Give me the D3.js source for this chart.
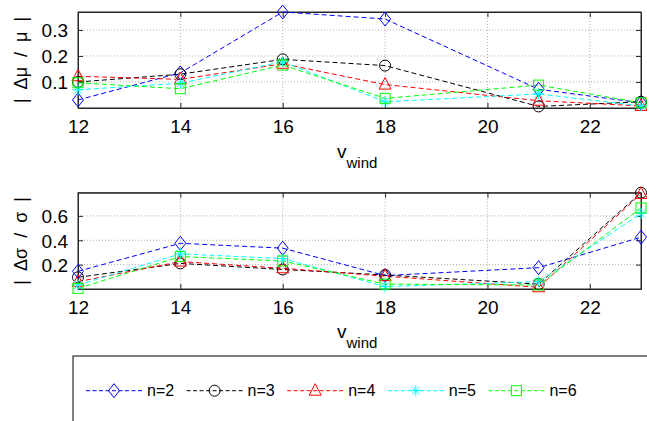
<!DOCTYPE html>
<html><head><meta charset="utf-8">
<script src="https://cdn.jsdelivr.net/npm/d3@7"></script>
<style>body{margin:0;background:#fff}svg{display:block;font-family:Arial,"Liberation Sans",sans-serif}</style>
</head><body><svg id="c" width="647" height="421"></svg>
<script>
const windSpeeds = [12, 14, 16, 18, 21, 23];
const seriesNames = ["n=2", "n=3", "n=4", "n=5", "n=6"];
const seriesColors = ["#0000ff", "#000000", "#ff0000", "#00ffff", "#00ff00"];
const seriesMarkers = ["diamond", "circle", "triangle", "star", "square"];
// |Δμ/μ|
const muN2 = [0.031, 0.135, 0.369, 0.342, 0.072, 0.020];
const muN3 = [0.100, 0.130, 0.187, 0.163, 0.006, 0.024];
const muN4 = [0.122, 0.110, 0.170, 0.090, 0.028, 0.008];
const muN5 = [0.070, 0.095, 0.178, 0.024, 0.054, 0.008];
const muN6 = [0.097, 0.074, 0.165, 0.037, 0.088, 0.020];
// |Δσ/σ|
const sigN2 = [0.145, 0.375, 0.335, 0.110, 0.175, 0.425];
const sigN3 = [0.096, 0.210, 0.160, 0.115, 0.040, 0.790];
const sigN4 = [0.060, 0.225, 0.170, 0.105, 0.014, 0.780];
const sigN5 = [0.033, 0.288, 0.250, 0.020, 0.060, 0.620];
const sigN6 = [0.005, 0.266, 0.230, 0.040, 0.033, 0.665];
const xTicks = [12, 14, 16, 18, 20, 22];
const muTicks = [0.1, 0.2, 0.3];
const sigTicks = [0.2, 0.4, 0.6];

const svg = d3.select("#c");
const x = d3.scaleLinear().domain([12, 23]).range([78, 641]);

function marker(g, type, color, px, py) {
  const s = 5.5;
  let el;
  if (type === "diamond") {
    el = g.append("path").attr("d", `M${px},${py-7}L${px+5.5},${py}L${px},${py+7}L${px-5.5},${py}Z`);
  } else if (type === "circle") {
    el = g.append("circle").attr("cx", px).attr("cy", py).attr("r", 5.5);
  } else if (type === "triangle") {
    el = g.append("path").attr("d", `M${px},${py-7}L${px+6},${py+4.5}L${px-6},${py+4.5}Z`);
  } else if (type === "square") {
    el = g.append("rect").attr("x", px-5).attr("y", py-5).attr("width", 10).attr("height", 10);
  } else {
    const r = 5.5, d = r*0.707;
    el = g.append("path").attr("d", `M${px-r},${py}H${px+r}M${px},${py-r}V${py+r}M${px-d},${py-d}L${px+d},${py+d}M${px-d},${py+d}L${px+d},${py-d}`);
  }
  el.attr("fill", "none").attr("stroke", color).attr("stroke-width", 1);
}

function panel(top, bottom, ymax, yTicks, data, ylabel, xlabelY) {
  const y = d3.scaleLinear().domain([0, ymax]).range([bottom, top]);
  const g = svg.append("g");
  // grid
  g.selectAll(".gx").data(xTicks.slice(1)).enter().append("line")
    .attr("x1", d => x(d)).attr("x2", d => x(d)).attr("y1", top).attr("y2", bottom)
    .attr("stroke", "#b0b0b0").attr("stroke-dasharray", "1,2").attr("stroke-width", 1);
  g.selectAll(".gy").data(yTicks).enter().append("line")
    .attr("x1", 78).attr("x2", 641).attr("y1", d => y(d)).attr("y2", d => y(d))
    .attr("stroke", "#b0b0b0").attr("stroke-dasharray", "1,2").attr("stroke-width", 1);
  // axes
  const ax = g.append("g").attr("transform", `translate(0,${bottom})`)
    .call(d3.axisBottom(x).tickValues(xTicks).tickSizeInner(-5).tickSizeOuter(0).tickPadding(12));
  const ax2 = g.append("g").attr("transform", `translate(0,${top})`)
    .call(d3.axisTop(x).tickValues(xTicks).tickSizeInner(-5).tickSizeOuter(0).tickFormat(""));
  const ay = g.append("g").attr("transform", `translate(78,0)`)
    .call(d3.axisLeft(y).tickValues(yTicks).tickSizeInner(-5).tickSizeOuter(0).tickPadding(10).tickFormat(d3.format(".1f")));
  const ay2 = g.append("g").attr("transform", `translate(641,0)`)
    .call(d3.axisRight(y).tickValues(yTicks).tickSizeInner(-5).tickSizeOuter(0).tickFormat(""));
  [ax, ax2, ay, ay2].forEach(a => {
    a.select(".domain").attr("stroke", "#262626");
    a.selectAll(".tick line").attr("stroke", "#262626");
    a.selectAll("text").attr("font-size", 19).attr("fill", "#000").attr("font-family", "Arial,'Liberation Sans',sans-serif");
  });
  ax.selectAll("text").attr("dy", "0.71em");
  ay.selectAll("text").attr("dy", "0.36em");
  g.append("rect").attr("x", 78).attr("y", top).attr("width", 641-78).attr("height", bottom-top)
    .attr("fill", "none").attr("stroke", "#262626").attr("stroke-width", 1);
  // series
  const line = d3.line().x((d, i) => x(windSpeeds[i])).y(d => y(d));
  data.forEach((vals, k) => {
    g.append("path").attr("d", line(vals)).attr("fill", "none")
      .attr("stroke", seriesColors[k]).attr("stroke-width", 1).attr("stroke-dasharray", "5,3");
  });
  data.forEach((vals, k) => {
    vals.forEach((v, i) => marker(g, seriesMarkers[k], seriesColors[k], x(windSpeeds[i]), y(v)));
  });
  // y label
  g.append("text").attr("transform", `translate(27,${(top+bottom)/2}) rotate(-90)`)
    .attr("text-anchor", "middle").attr("font-size", 18).attr("fill", "#000")
    .attr("style", "white-space:pre").text(ylabel);
  // x label
  const t = g.append("text").attr("x", 337).attr("y", xlabelY).attr("fill", "#000");
  t.append("tspan").attr("font-size", 19).text("v");
  t.append("tspan").attr("font-size", 15).attr("dy", 10).text("wind");
}

panel(12, 108, 0.369, muTicks, [muN2, muN3, muN4, muN5, muN6], "|  Δμ  /  μ  |", 158);
panel(192.7, 289, 0.79, sigTicks, [sigN2, sigN3, sigN4, sigN5, sigN6], "|  Δσ  /  σ  |", 338);

// legend
const lg = svg.append("g");
lg.append("rect").attr("x", 73).attr("y", 356).attr("width", 600).attr("height", 100)
  .attr("fill", "#fff").attr("stroke", "#000").attr("stroke-width", 1);
seriesNames.forEach((name, k) => {
  const x0 = 86 + k * 100.6, ly = 390.7;
  lg.append("line").attr("x1", x0).attr("x2", x0 + 56).attr("y1", ly).attr("y2", ly)
    .attr("stroke", seriesColors[k]).attr("stroke-width", 1).attr("stroke-dasharray", "4,2.5");
  marker(lg, seriesMarkers[k], seriesColors[k], x0 + 28, ly);
  lg.append("text").attr("x", x0 + 61).attr("y", ly + 5.5).attr("font-size", 16).attr("fill", "#000").text(name);
});
</script></body></html>
